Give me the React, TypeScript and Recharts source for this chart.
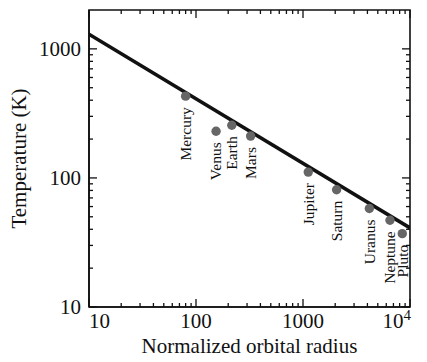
import { ScatterChart, Scatter, XAxis, YAxis, ReferenceArea } from 'recharts';

const planetNames = ['Mercury', 'Venus', 'Earth', 'Mars', 'Jupiter', 'Saturn', 'Uranus', 'Neptune', 'Pluto'];
const orbitalRadius = [80, 154, 216, 324, 1120, 2060, 4170, 6500, 8470];
const temperatureK = [430, 230, 256, 211, 111, 81, 58, 47, 37];

const fitRadius = [10, 10000];
const fitTemperature = [1300, 41];

const xMajor = [10, 100, 1000, 10000];
const xTicks = [
  10, 20, 30, 40, 50, 60, 70, 80, 90,
  100, 200, 300, 400, 500, 600, 700, 800, 900,
  1000, 2000, 3000, 4000, 5000, 6000, 7000, 8000, 9000, 10000,
];
const yMajor = [10, 100, 1000];
const yTicks = [
  10, 20, 30, 40, 50, 60, 70, 80, 90,
  100, 200, 300, 400, 500, 600, 700, 800, 900, 1000,
];

const planetData = planetNames.map((name, i) => ({ name, r: orbitalRadius[i], t: temperatureK[i] }));
const fitData = fitRadius.map((r, i) => ({ r, t: fitTemperature[i] }));

const FONT = '"Liberation Serif", "DejaVu Serif", serif';
const INK = '#111';

const W = 419;
const H = 354;
const MARGIN = { top: 2, right: 17, bottom: 0, left: 0 };
const Y_AXIS_W = 81;
const X_AXIS_H = 55;
// plot box size, used to mirror the ticks on the top and right edges
const PLOT_W = W - MARGIN.left - MARGIN.right - Y_AXIS_W;
const PLOT_H = H - MARGIN.top - MARGIN.bottom - X_AXIS_H;

const BottomTick = (props: any) => {
  const { x, y, payload } = props;
  const v = payload.value;
  const major = xMajor.includes(v);
  const len = major ? 8 : 4;
  const top = y - PLOT_H;
  let label = null;
  if (major) {
    if (v === 10) {
      label = <text x={x} y={y + 21} textAnchor="start" fontSize={21} fontFamily={FONT} fill={INK}>10</text>;
    } else if (v === 10000) {
      label = (
        <text x={x + 1} y={y + 21} textAnchor="end" fontSize={21} fontFamily={FONT} fill={INK}>
          10<tspan dy={-8} fontSize={15}>4</tspan>
        </text>
      );
    } else {
      label = <text x={x} y={y + 21} textAnchor="middle" fontSize={21} fontFamily={FONT} fill={INK}>{v}</text>;
    }
  }
  return (
    <g>
      <line x1={x} x2={x} y1={y} y2={y - len} stroke={INK} strokeWidth={1.3} />
      <line x1={x} x2={x} y1={top} y2={top + len} stroke={INK} strokeWidth={1.3} />
      {label}
    </g>
  );
};

const LeftTick = (props: any) => {
  const { x, y, payload } = props;
  const v = payload.value;
  const major = yMajor.includes(v);
  const len = major ? 8 : 4;
  const right = x + PLOT_W;
  return (
    <g>
      <line x1={x} x2={x + len} y1={y} y2={y} stroke={INK} strokeWidth={1.3} />
      <line x1={right} x2={right - len} y1={y} y2={y} stroke={INK} strokeWidth={1.3} />
      {major && (
        <text x={x - 8} y={y} dy="0.35em" textAnchor="end" fontSize={21} fontFamily={FONT} fill={INK}>
          {v}
        </text>
      )}
    </g>
  );
};

const PlanetDot = (props: any) => {
  const { cx, cy, payload } = props;
  const ly = cy + 11;
  return (
    <g>
      <circle cx={cx} cy={cy} r={4.7} fill="#666" />
      <text
        x={cx}
        y={ly}
        dy="0.35em"
        transform={`rotate(-90 ${cx} ${ly})`}
        textAnchor="end"
        fontSize={15.5}
        fontFamily={FONT}
        fill={INK}
      >
        {payload.name}
      </text>
    </g>
  );
};

const XTitle = (props: any) => {
  const { viewBox } = props;
  return (
    <text x={viewBox.x + viewBox.width / 2} y={viewBox.y + 46} textAnchor="middle" fontSize={21} fontFamily={FONT} fill={INK}>
      Normalized orbital radius
    </text>
  );
};

const YTitle = (props: any) => {
  const { viewBox } = props;
  const cx = viewBox.x + 10.5;
  const cy = viewBox.y + viewBox.height / 2;
  return (
    <text x={cx} y={cy} dy="0.35em" transform={`rotate(-90 ${cx} ${cy})`} textAnchor="middle" fontSize={21} fontFamily={FONT} fill={INK}>
      Temperature (K)
    </text>
  );
};

export default function App() {
  const axisLine = { stroke: INK, strokeWidth: 1.6 };
  return (
    <div style={{ width: W, height: H }}>
      <ScatterChart width={W} height={H} margin={MARGIN}>
        <XAxis
          dataKey="r"
          type="number"
          scale="log"
          domain={[10, 10000]}
          allowDataOverflow
          ticks={xTicks}
          interval={0}
          tick={<BottomTick />}
          tickLine={false}
          tickSize={0}
          tickMargin={0}
          axisLine={axisLine}
          height={X_AXIS_H}
          label={<XTitle />}
        />
        <YAxis
          dataKey="t"
          type="number"
          scale="log"
          domain={[10, 2000]}
          allowDataOverflow
          ticks={yTicks}
          interval={0}
          tick={<LeftTick />}
          tickLine={false}
          tickSize={0}
          tickMargin={0}
          axisLine={axisLine}
          width={Y_AXIS_W}
          label={<YTitle />}
        />
        {/* plot frame */}
        <ReferenceArea
          x1={10}
          x2={10000}
          y1={10}
          y2={2000}
          fill="none"
          fillOpacity={0}
          stroke={INK}
          strokeWidth={1.6}
          strokeOpacity={1}
          ifOverflow="visible"
        />
        <Scatter
          data={fitData}
          line={{ stroke: INK, strokeWidth: 3.5 }}
          shape={() => <g />}
          isAnimationActive={false}
        />
        <Scatter
          data={planetData}
          shape={<PlanetDot />}
          isAnimationActive={false}
        />
      </ScatterChart>
    </div>
  );
}
